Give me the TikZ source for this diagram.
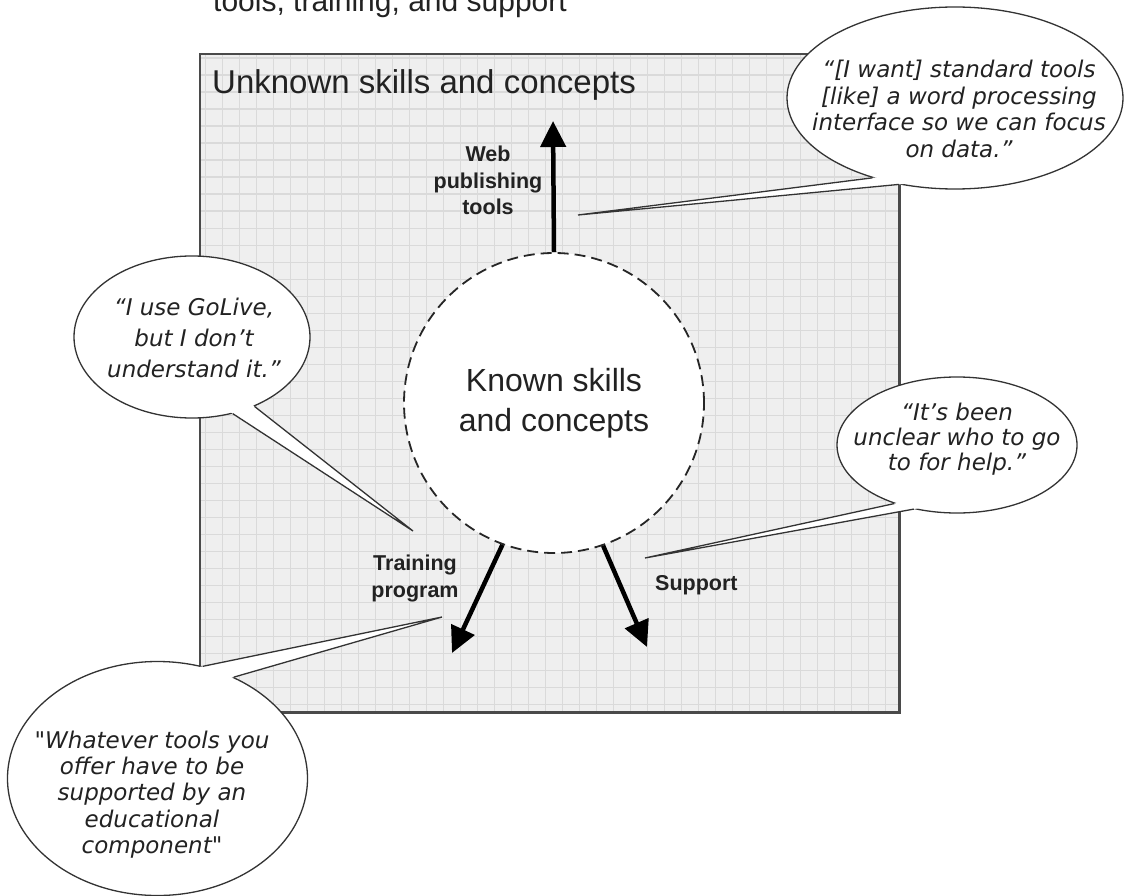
\documentclass[tikz,border=0pt]{standalone}
\usepackage{fontspec}
\setmainfont{Liberation Sans}
\newfontfamily\quotefont{DejaVu Sans}
\usetikzlibrary{shapes.geometric,arrows.meta,calc}
\definecolor{gridbg}{HTML}{EFEFEF}
\definecolor{gridln}{HTML}{DADADA}
\definecolor{ink}{HTML}{222222}
\definecolor{boxline}{HTML}{4A4A4A}
\definecolor{bubbleline}{HTML}{333333}
\begin{document}
\begin{tikzpicture}[x=1pt,y=-1pt,
  bigarrow/.style={line width=4.5pt, draw=black, -{Triangle[length=26pt,width=25pt]}},
  bubble/.style={ellipse, draw=bubbleline, fill=white, line width=1.3pt, inner sep=0pt},
  tailline/.style={draw=bubbleline, line width=1.3pt, line join=miter},
  quote/.style={font=\quotefont\itshape\fontsize{23}{#1}\selectfont, text=ink, align=center, inner sep=0pt},
  lbl/.style={font=\bfseries\fontsize{21.5}{26.5}\selectfont, text=ink, align=center, inner sep=0pt},
  big/.style={font=\fontsize{#1}{40}\selectfont, text=ink, inner sep=0pt}]
\useasboundingbox (0,0) rectangle (1124,896);
\fill[white] (0,0) rectangle (1124,896);
% title (cut off at top, as in the reference)
\node[big=30, anchor=base west] (title) at (213,12) {tools, training, and support};
% area with grid
\node[draw=none, fill=gridbg, minimum width=699pt, minimum height=658pt, anchor=north west, inner sep=0pt] (area) at (200,54) {};
\begin{scope}
  \clip (area.north west) rectangle (area.south east);
  \foreach \i in {0,...,41} \draw[gridln, line width=1.6pt] ({205.3+17*\i},54) -- ++(0,658);
  \foreach \j in {0,...,38} \draw[gridln, line width=1.6pt] (200,{58.3+17*\j}) -- ++(699,0);
\end{scope}
\draw[boxline, line width=2.2pt] (area.north west) rectangle (area.south east);
\node[big=33, anchor=base west] (unknown) at (212,94) {Unknown skills and concepts};
% known circle
\node[circle, draw=black!85, fill=white, line width=1.8pt, dash pattern=on 11pt off 6pt,
      minimum size=300pt, inner sep=0pt, align=center, font=\fontsize{32}{40}\selectfont, text=ink] (known) at (554,403) {Known skills\\and concepts};
% arrows
\coordinate (webtip) at (553,121);
\coordinate (traintip) at (452,653);
\coordinate (supptip) at (647,647);
\draw[bigarrow] (known.north) -- (webtip);
\draw[bigarrow] (known.250) -- (traintip);
\draw[bigarrow] (known.289) -- (supptip);
% arrow labels
\node[lbl] (weblbl) at (488,180.5) {Web\\publishing\\tools};
\node[lbl] (trainlbl) at (415,578.5) {Training\\program};
\node[lbl, anchor=base west] (supplbl) at (655,590) {Support};
% tail tips
\coordinate (t1) at (578,215);
\coordinate (t2) at (413,531);
\coordinate (t3) at (645,558);
\coordinate (t4) at (442,617);
% bubbles
\node[bubble, minimum width=336pt, minimum height=182pt] (b1) at (955,98) {};
\node[bubble, minimum width=236pt, minimum height=162pt] (b2) at (192,337) {};
\node[bubble, minimum width=240pt, minimum height=136pt] (b3) at (957,445) {};
\node[bubble, minimum width=300pt, minimum height=234pt] (b4) at (157.5,778.5) {};
% tails
\fill[white] ($(b1.224)!-8pt!(t1)$) -- (t1) -- ($(b1.237)!-8pt!(t1)$) -- cycle;
\draw[tailline] (b1.224) -- (t1) -- (b1.237);
\fill[white] ($(b2.298)!-8pt!(t2)$) -- (t2) -- ($(b2.312)!-8pt!(t2)$) -- cycle;
\draw[tailline] (b2.298) -- (t2) -- (b2.312);
\fill[white] ($(b3.223)!-8pt!(t3)$) -- (t3) -- ($(b3.236)!-8pt!(t3)$) -- cycle;
\draw[tailline] (b3.223) -- (t3) -- (b3.236);
\fill[white] ($(b4.68)!-8pt!(t4)$) -- (t4) -- ($(b4.53)!-8pt!(t4)$) -- cycle;
\draw[tailline] (b4.68) -- (t4) -- (b4.53);
% quotes
\node[quote=26.7] (q1) at (959,109) {“[I want] standard tools\\{}[like] a word processing\\interface so we can focus\\on data.”};
\node[quote=31] (q2) at (194,338) {“I use GoLive,\\but I don’t\\understand it.”};
\node[quote=25] (q3) at (957,439) {“It’s been\\unclear who to go\\to for help.”};
\node[quote=26.25] (q4) at (152,794.5) {"Whatever tools you\\offer have to be\\supported by an\\educational\\component"};
\end{tikzpicture}
\end{document}
